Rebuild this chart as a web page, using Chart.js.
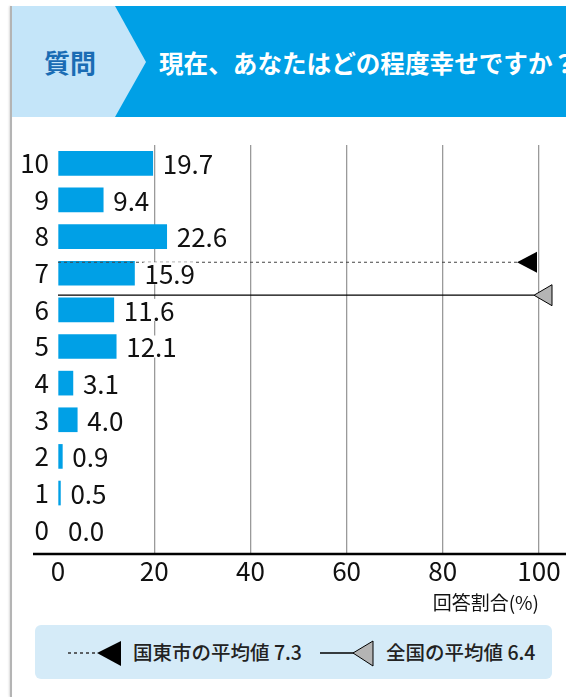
<!DOCTYPE html>
<html lang="ja">
<head>
<meta charset="utf-8">
<script src="https://cdn.jsdelivr.net/npm/chart.js@4.4.1/dist/chart.umd.min.js"></script>
<style>
  html, body { margin: 0; padding: 0; background: #fff; }
  body { width: 566px; height: 697px; position: relative; overflow: hidden;
         font-family: "Noto Sans CJK JP", "Noto Sans", sans-serif; }
  .edge { position: absolute; left: 10px; top: 6px; width: 2px; height: 691px;
          background: #b4b4b4; box-shadow: -1px 0 2px rgba(0,0,0,0.15); }
  .head { position: absolute; left: 12px; top: 6px; width: 554px; height: 111px;
          background: #00a0e6; overflow: hidden; }
  .head .tag { position: absolute; left: 0; top: 0; width: 135px; height: 111px;
               background: #c4e5f9;
               clip-path: polygon(0 0, 103px 0, 134px 56px, 103px 111px, 0 111px); }
  .head .tag span { position: absolute; left: 32px; top: 38px; font-size: 26px;
                    font-weight: bold; color: #1a6cb4; line-height: 36px; }
  .head .q { position: absolute; left: 147px; top: 38px; font-size: 24.6px; font-weight: bold;
             color: #fff; white-space: nowrap; line-height: 36px; }
  #wrap { position: absolute; left: 0; top: 120px; width: 566px; height: 500px; }
  .legend { position: absolute; left: 35px; top: 625px; width: 517px; height: 54px;
            background: #d5ebf8; border-radius: 6px; }
  .legend svg { position: absolute; top: 0; }
  .legend span { position: absolute; top: 13px; font-size: 19.5px; line-height: 28px;
                 color: #222; font-weight: 500; white-space: nowrap; }
</style>
</head>
<body>
<div class="edge"></div>
<div class="head">
  <div class="tag"><span>質問</span></div>
  <div class="q">現在、あなたはどの程度幸せですか？</div>
</div>
<div id="wrap"><canvas id="chart"></canvas></div>
<div class="legend">
  <svg style="left:30px" width="60" height="54">
    <line x1="3" y1="28" x2="33" y2="28" stroke="#333" stroke-width="1.3" stroke-dasharray="3,3"/>
    <polygon points="32,28 56,16 56,41" fill="#000"/>
  </svg>
  <span style="left:98px">国東市の平均値 7.3</span>
  <svg style="left:283px" width="60" height="54">
    <line x1="2" y1="28" x2="36" y2="28" stroke="#000" stroke-width="1.3"/>
    <polygon points="35,28 55,16 55,41" fill="#b4b4b4" stroke="#000" stroke-width="1"/>
  </svg>
  <span style="left:351px">全国の平均値 6.4</span>
</div>
<script>
// 回答の選択肢(幸福度 0〜10)と回答割合(%)
const categories = ['10', '9', '8', '7', '6', '5', '4', '3', '2', '1', '0'];
const shares = [19.7, 9.4, 22.6, 15.9, 11.6, 12.1, 3.1, 4.0, 0.9, 0.5, 0.0];
const xTicks = [0, 20, 40, 60, 80, 100];
// 平均値(国東市, 全国)
const avgNames = ['国東市の平均値', '全国の平均値'];
const avgValues = [7.3, 6.4];

const FONT = '"Noto Sans CJK JP", "Noto Sans", sans-serif';

// 幸福度の値 -> y座標(カテゴリ軸は 10 から 0 へ並ぶ)
function scorePixel(scale, score) {
    return scale.getPixelForValue(categories.length - 1 - score);
}

const extras = {
    id: 'extras',
    afterDatasetsDraw(chart) {
        const { ctx, chartArea, scales } = chart;
        const r = chartArea.right;

        // x軸の線
        ctx.save();
        ctx.strokeStyle = '#000';
        ctx.lineWidth = 2.5;
        ctx.beginPath();
        ctx.moveTo(33, chartArea.bottom + 6);
        ctx.lineTo(chart.width, chartArea.bottom + 6);
        ctx.stroke();

        // 平均値の線と三角形
        const y1 = scorePixel(scales.y, avgValues[0]);
        ctx.strokeStyle = '#444';
        ctx.lineWidth = 1.2;
        ctx.setLineDash([3, 3]);
        ctx.beginPath();
        ctx.moveTo(chartArea.left, y1);
        ctx.lineTo(r - 22, y1);
        ctx.stroke();
        ctx.setLineDash([]);
        ctx.fillStyle = '#000';
        ctx.beginPath();
        ctx.moveTo(r - 22, y1);
        ctx.lineTo(r - 2, y1 - 10.5);
        ctx.lineTo(r - 2, y1 + 10.5);
        ctx.closePath();
        ctx.fill();

        const y2 = scorePixel(scales.y, avgValues[1]);
        ctx.strokeStyle = '#000';
        ctx.lineWidth = 1.3;
        ctx.beginPath();
        ctx.moveTo(chartArea.left, y2);
        ctx.lineTo(r - 5, y2);
        ctx.stroke();
        ctx.fillStyle = '#b4b4b4';
        ctx.lineWidth = 1;
        ctx.beginPath();
        ctx.moveTo(r - 5, y2);
        ctx.lineTo(r + 13, y2 - 10.5);
        ctx.lineTo(r + 13, y2 + 10.5);
        ctx.closePath();
        ctx.fill();
        ctx.stroke();

        // 数値ラベル(白地)
        ctx.font = '26px ' + FONT;
        ctx.textBaseline = 'middle';
        chart.getDatasetMeta(0).data.forEach((bar, i) => {
            const txt = shares[i].toFixed(1);
            const x = bar.x + 10;
            const w = ctx.measureText(txt).width;
            ctx.fillStyle = '#fff';
            ctx.fillRect(x - 1, bar.y - 11, w + 2, 22);
            ctx.fillStyle = '#111';
            ctx.fillText(txt, x, bar.y + 1);
        });
        ctx.restore();
    }
};

new Chart(document.getElementById('chart'), {
    type: 'bar',
    data: {
        labels: categories,
        datasets: [{
            data: shares,
            backgroundColor: shares.map(v => v > 0 ? '#00a0e6' : 'rgba(0,0,0,0)'),
            barThickness: 24
        }]
    },
    options: {
        indexAxis: 'y',
        responsive: true,
        maintainAspectRatio: false,
        animation: false,
        layout: { padding: { top: 25, right: 27, bottom: 6, left: 0 } },
        plugins: {
            legend: { display: false },
            tooltip: { enabled: false }
        },
        scales: {
            x: {
                min: 0,
                max: 100,
                afterBuildTicks(axis) {
                    axis.ticks = xTicks.map(v => ({ value: v }));
                },
                border: { display: false },
                grid: {
                    color: c => c.tick && c.tick.value === 0 ? 'rgba(0,0,0,0)' : '#9a9a9a',
                    lineWidth: 1.3,
                    tickLength: 6
                },
                ticks: {
                    color: '#111',
                    padding: 2,
                    font: { family: FONT, size: 26 }
                },
                title: {
                    display: true,
                    text: '回答割合(%)',
                    align: 'end',
                    color: '#111',
                    padding: { top: 2, bottom: 0 },
                    font: { family: FONT, size: 19 }
                }
            },
            y: {
                afterFit(axis) { axis.width = 58; },
                border: { display: false },
                grid: { display: false, drawTicks: false },
                ticks: {
                    color: '#111',
                    padding: 9,
                    font: { family: FONT, size: 26 }
                }
            }
        }
    },
    plugins: [extras]
});
</script>
</body>
</html>
